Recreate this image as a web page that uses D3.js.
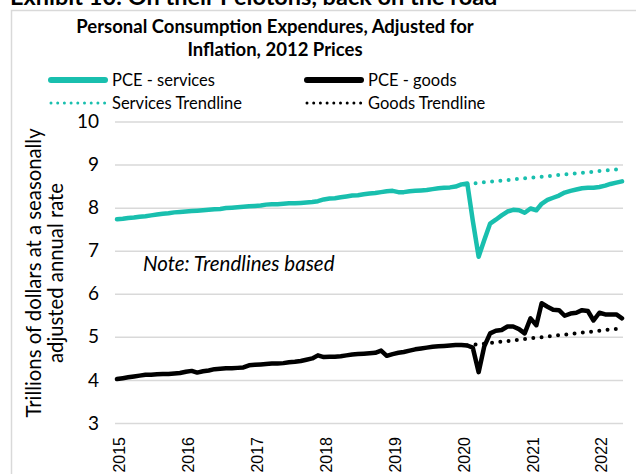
<!DOCTYPE html>
<html>
<head>
<meta charset="utf-8">
<script src="https://cdn.jsdelivr.net/npm/d3@7"></script>
<style>
  body { margin: 0; background: #fff; }
  svg { display: block; font-family: Lato, "DejaVu Sans", sans-serif; }
</style>
</head>
<body>
<svg id="chart" width="636" height="474"></svg>
<script>
// monthly data, Jan 2015 .. May 2022 (trillions, 2012 dollars)
const startMonth = new Date(2015, 0, 1);
const yearTicks = [2015, 2016, 2017, 2018, 2019, 2020, 2021, 2022];
const yTicks = [3, 4, 5, 6, 7, 8, 9, 10];

const services = [
  7.73, 7.74, 7.76, 7.77, 7.79, 7.80, 7.82, 7.84, 7.86, 7.87, 7.89, 7.90,
  7.91, 7.92, 7.93, 7.94, 7.95, 7.96, 7.97, 7.99, 8.00, 8.01, 8.02, 8.03,
  8.04, 8.05, 8.07, 8.08, 8.08, 8.09, 8.10, 8.10, 8.11, 8.12, 8.13, 8.15,
  8.19, 8.21, 8.22, 8.24, 8.26, 8.28, 8.29, 8.31, 8.33, 8.34, 8.36, 8.38,
  8.39, 8.36, 8.36, 8.38, 8.39, 8.40, 8.41, 8.43, 8.45, 8.46, 8.47, 8.49,
  8.54, 8.56, 7.70, 6.86, 7.25, 7.63, 7.72, 7.82, 7.91, 7.95, 7.94, 7.88,
  7.98, 7.94, 8.09, 8.18, 8.23, 8.28, 8.35, 8.39, 8.42, 8.45, 8.46, 8.46,
  8.48, 8.51, 8.55, 8.58, 8.61
];

const goods = [
  4.02, 4.04, 4.06, 4.08, 4.10, 4.12, 4.12, 4.13, 4.14, 4.14, 4.15, 4.16,
  4.19, 4.21, 4.17, 4.20, 4.22, 4.25, 4.26, 4.27, 4.27, 4.28, 4.29, 4.34,
  4.35, 4.36, 4.37, 4.38, 4.38, 4.39, 4.41, 4.42, 4.44, 4.47, 4.50, 4.57,
  4.53, 4.54, 4.54, 4.55, 4.57, 4.59, 4.60, 4.61, 4.62, 4.63, 4.68, 4.56,
  4.60, 4.63, 4.65, 4.68, 4.71, 4.73, 4.75, 4.77, 4.78, 4.79, 4.80, 4.81,
  4.81, 4.80, 4.75, 4.18, 4.78, 5.08, 5.14, 5.16, 5.24, 5.24, 5.18, 5.08,
  5.43, 5.27, 5.78, 5.70, 5.63, 5.62, 5.49, 5.54, 5.56, 5.62, 5.60, 5.38,
  5.56, 5.52, 5.52, 5.52, 5.43
];

// trendlines: [month index, value] at start and end
const servicesTrend = [[61, 8.55], [88, 8.90]];
const goodsTrend = [[61, 4.80], [88, 5.20]];

const teal = '#19bfae';
const monthDate = i => d3.timeMonth.offset(startMonth, i);

const svg = d3.select('#chart');

// frame and cut-off exhibit heading
svg.append('rect')
    .attr('x', 11.5).attr('y', 10.5)
    .attr('width', 700).attr('height', 500)
    .attr('fill', 'none').attr('stroke', '#d9d9d9').attr('stroke-width', 1.5);

svg.append('text')
    .attr('x', 10).attr('y', 5)
    .attr('font-size', 23.5).attr('font-weight', 'bold')
    .text('Exhibit 10: On their Pelotons, back on the road');

// title
const title = svg.append('text')
    .attr('text-anchor', 'middle')
    .attr('font-size', 18.5).attr('font-weight', 'bold');
title.append('tspan').attr('x', 275).attr('y', 33).text('Personal Consumption Expendures, Adjusted for');
title.append('tspan').attr('x', 275).attr('y', 56).text('Inflation, 2012 Prices');

// scales
const x = d3.scaleTime()
    .domain([startMonth, monthDate(services.length - 1)])
    .range([117, 622]);
const y = d3.scaleLinear().domain([3, 10]).range([423, 121.5]);

// y axis with gridlines
const yAxis = svg.append('g')
    .attr('transform', 'translate(115,0)')
    .call(d3.axisLeft(y).tickValues(yTicks).tickFormat(d3.format('d')).tickSize(-508).tickPadding(16));
yAxis.select('.domain').remove();
yAxis.selectAll('.tick line').attr('stroke', '#d9d9d9').attr('stroke-width', 1.5);
yAxis.selectAll('.tick text')
    .attr('font-size', 19).attr('font-family', 'Lato, sans-serif').attr('fill', '#000');

// x axis, rotated year labels
const xAxis = svg.append('g')
    .attr('transform', 'translate(0,423)')
    .call(d3.axisBottom(x)
        .tickValues(yearTicks.map(yr => new Date(yr, 0, 1)))
        .tickFormat(d3.timeFormat('%Y'))
        .tickSize(0));
xAxis.select('.domain').remove();
xAxis.selectAll('.tick text')
    .attr('transform', 'rotate(-90)')
    .attr('x', -14).attr('y', 2).attr('dy', '0.35em')
    .attr('text-anchor', 'end')
    .attr('font-size', 16).attr('font-family', '"Liberation Sans", Arial, sans-serif').attr('fill', '#000');

// y axis title
const yTitle = svg.append('text')
    .attr('transform', 'translate(0,273) rotate(-90)')
    .attr('text-anchor', 'middle').attr('font-size', 20.3);
yTitle.append('tspan').attr('x', 0).attr('y', 41).text('Trillions of dollars at a seasonally');
yTitle.append('tspan').attr('x', 0).attr('y', 63).text('adjusted annual rate');

// note
svg.append('text')
    .attr('x', 143).attr('y', 271)
    .attr('font-size', 20.5).attr('font-style', 'italic')
    .text('Note: Trendlines based');

// series
const line = d3.line()
    .x((d, i) => x(monthDate(i)))
    .y(d => y(d));

const trendLine = d3.line()
    .x(d => x(monthDate(d[0])))
    .y(d => y(d[1]));

svg.append('path')
    .datum(servicesTrend)
    .attr('d', trendLine)
    .attr('fill', 'none').attr('stroke', teal).attr('stroke-width', 4)
    .attr('stroke-linecap', 'round').attr('stroke-dasharray', '0 8.3');

svg.append('path')
    .datum(goodsTrend)
    .attr('d', trendLine)
    .attr('fill', 'none').attr('stroke', '#000').attr('stroke-width', 4)
    .attr('stroke-linecap', 'round').attr('stroke-dasharray', '0 8.3');

svg.append('path')
    .datum(services)
    .attr('d', line)
    .attr('fill', 'none').attr('stroke', teal).attr('stroke-width', 4.5)
    .attr('stroke-linejoin', 'round').attr('stroke-linecap', 'round');

svg.append('path')
    .datum(goods)
    .attr('d', line)
    .attr('fill', 'none').attr('stroke', '#000').attr('stroke-width', 4.5)
    .attr('stroke-linejoin', 'round').attr('stroke-linecap', 'round');

// legend
const legendItems = [
    { label: 'PCE - services', color: teal, dotted: false, lx: 49, ly: 80 },
    { label: 'PCE - goods', color: '#000', dotted: false, lx: 305, ly: 80 },
    { label: 'Services Trendline', color: teal, dotted: true, lx: 49, ly: 103 },
    { label: 'Goods Trendline', color: '#000', dotted: true, lx: 305, ly: 103 },
];

const legend = svg.append('g');
legendItems.forEach(d => {
    legend.append('line')
        .attr('x1', d.lx + 2).attr('x2', d.lx + 56)
        .attr('y1', d.ly).attr('y2', d.ly)
        .attr('stroke', d.color)
        .attr('stroke-width', d.dotted ? 3 : 6)
        .attr('stroke-linecap', 'round')
        .attr('stroke-dasharray', d.dotted ? '0 6.7' : null);
    legend.append('text')
        .attr('x', d.lx + 63).attr('y', d.ly + 6)
        .attr('font-size', 16.5)
        .text(d.label);
});
</script>
</body>
</html>
